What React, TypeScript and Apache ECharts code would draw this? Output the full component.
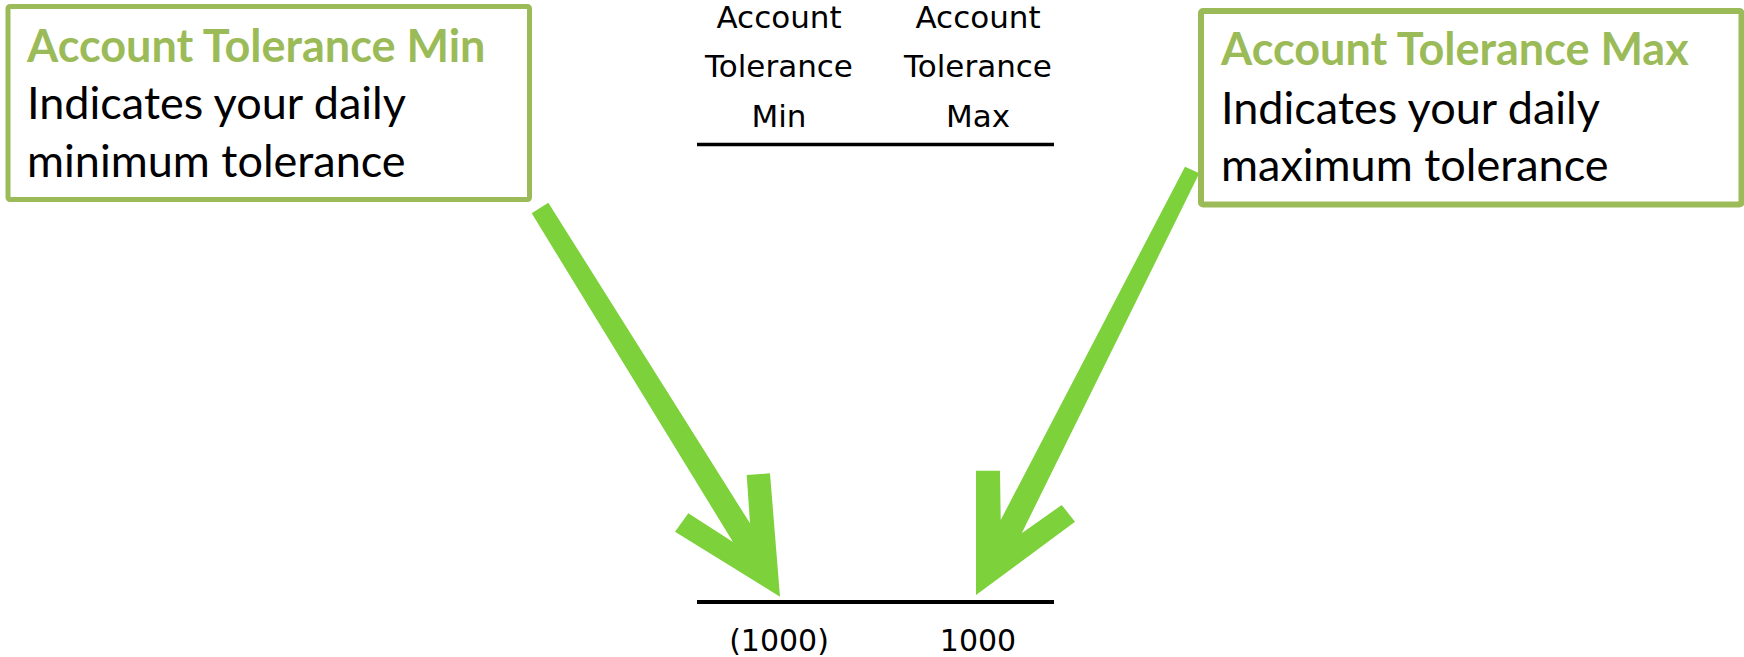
import React, { useEffect, useRef } from "react";
import * as echarts from "echarts";

// ---- data ----
const columnHeaders = ["Account\nTolerance\nMin", "Account\nTolerance\nMax"];
const columnValues = [-1000, 1000];
const calloutTitles = ["Account Tolerance Min", "Account Tolerance Max"];
const calloutBodies = [
  "Indicates your daily\nminimum tolerance",
  "Indicates your daily\nmaximum tolerance",
];

// ---- layout / style ----
const W = 1744;
const H = 657;
const BOX_GREEN = "#9BBB59";
const ARROW_GREEN = "#7DD13B";
const colCenters = [779, 978];
const tableLeft = 697;
const tableRight = 1054;

const fmt = (v: number) => (v < 0 ? `(${Math.abs(v)})` : `${v}`);

const leftArrow: number[][] = [
  [531.7, 213.3],
  [548.3, 202.7],
  [750, 523.3],
  [746.7, 475],
  [770, 473.3],
  [780, 596.7],
  [675, 531.7],
  [688.3, 513.3],
  [733, 542],
];
const rightArrow: number[][] = [
  [1185, 166.7],
  [1199.3, 173.3],
  [1021.7, 533.3],
  [1061.7, 505],
  [1075, 521.7],
  [976, 595],
  [976, 470.7],
  [1000, 470.7],
  [1000.7, 520],
];

const boxes = [
  { x: 8, y: 6.5, w: 521.5, h: 193, tx: 27, base: [62, 119, 177], lw: 5 },
  { x: 1201, y: 11, w: 540.5, h: 193.5, tx: 1221, base: [65, 124, 181], lw: 6 },
];

const BOX_FONT = "Lato, 'Open Sans', sans-serif";
const TABLE_FONT = "'DejaVu Sans', Verdana, sans-serif";
const TITLE_SIZE = 45;
const BODY_SIZE = 45;
const TABLE_SIZE = 31;

export default function App() {
  const ref = useRef<HTMLDivElement>(null);
  useEffect(() => {
    if (!ref.current) return;
    const chart = echarts.init(ref.current, undefined, { renderer: "svg" });
    const graphics: any[] = [];

    // arrows (drawn first, boxes on top)
    [leftArrow, rightArrow].forEach((pts) => {
      graphics.push({
        type: "polygon",
        shape: { points: pts },
        style: { fill: ARROW_GREEN },
      });
    });

    // callout boxes
    boxes.forEach((b, i) => {
      graphics.push({
        type: "rect",
        shape: { x: b.x, y: b.y, width: b.w, height: b.h, r: 2 },
        style: { fill: "#ffffff", stroke: BOX_GREEN, lineWidth: b.lw },
      });
      graphics.push({
        type: "text",
        x: b.tx,
        y: b.base[0] - 0.37 * TITLE_SIZE,
        style: {
          text: calloutTitles[i],
          fill: BOX_GREEN,
          font: `bold ${TITLE_SIZE}px ${BOX_FONT}`,
          verticalAlign: "middle",
          align: "left",
        },
      });
      calloutBodies[i].split("\n").forEach((line, k) => {
        graphics.push({
          type: "text",
          x: b.tx,
          y: b.base[k + 1] - 0.37 * BODY_SIZE,
          style: {
            text: line,
            fill: "#000000",
            font: `${BODY_SIZE}px ${BOX_FONT}`,
            verticalAlign: "middle",
            align: "left",
          },
        });
      });
    });

    // table header
    const headerBase = [28.5, 77.5, 127];
    columnHeaders.forEach((h, c) => {
      h.split("\n").forEach((line, k) => {
        graphics.push({
          type: "text",
          x: colCenters[c],
          y: headerBase[k] - 0.36 * TABLE_SIZE,
          style: {
            text: line,
            fill: "#000000",
            font: `${TABLE_SIZE}px ${TABLE_FONT}`,
            verticalAlign: "middle",
            align: "center",
          },
        });
      });
    });

    // rules
    graphics.push({
      type: "line",
      shape: { x1: tableLeft, y1: 144.5, x2: tableRight, y2: 144.5 },
      style: { stroke: "#000000", lineWidth: 3.5 },
    });
    graphics.push({
      type: "line",
      shape: { x1: tableLeft, y1: 602, x2: tableRight, y2: 602 },
      style: { stroke: "#000000", lineWidth: 4 },
    });

    // values
    columnValues.forEach((v, c) => {
      graphics.push({
        type: "text",
        x: colCenters[c],
        y: 651.5 - 0.36 * TABLE_SIZE,
        style: {
          text: fmt(v),
          fill: "#000000",
          font: `${TABLE_SIZE - 1}px ${TABLE_FONT}`,
          verticalAlign: "middle",
          align: "center",
        },
      });
    });

    chart.setOption({
      animation: false,
      backgroundColor: "#ffffff",
      graphic: { elements: graphics },
    });
    return () => chart.dispose();
  }, []);

  return (
    <div
      ref={ref}
      style={{ width: W, height: H, position: "absolute", left: 0, top: 0 }}
    />
  );
}
